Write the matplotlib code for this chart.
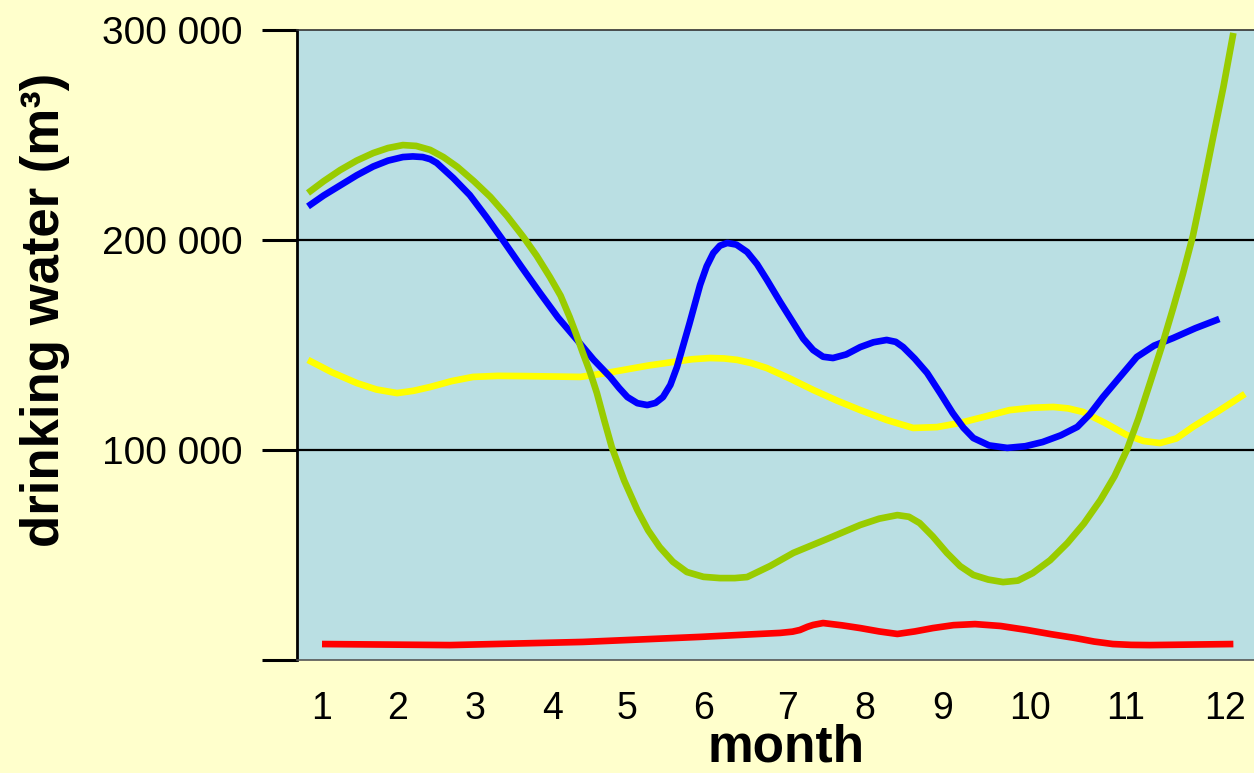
import matplotlib
matplotlib.use('Agg')
import matplotlib.pyplot as plt

plt.rcParams['font.family'] = ['Liberation Sans', 'DejaVu Sans']

# month tick positions (labels are not evenly spaced in the original)
months = ['1', '2', '3', '4', '5', '6', '7', '8', '9', '10', '11', '12']
month_pos = [1.00, 1.92, 2.85, 3.79, 4.69, 5.62, 6.64, 7.58, 8.52, 9.58, 10.73, 11.94]

# blue series
blue_x = [0.83, 1.02, 1.22, 1.42, 1.62, 1.80, 1.98, 2.10, 2.22, 2.31, 2.39, 2.59, 2.79,
          2.99, 3.19, 3.42, 3.64, 3.86, 4.09, 4.29, 4.49, 4.60, 4.70, 4.82, 4.94, 5.04,
          5.13, 5.22, 5.30, 5.45, 5.58, 5.66, 5.74, 5.82, 5.91, 6.02, 6.15, 6.27, 6.39,
          6.55, 6.71, 6.83, 6.95, 7.07, 7.19, 7.35, 7.52, 7.68, 7.84, 7.95, 8.04, 8.18,
          8.33, 8.49, 8.64, 8.77, 8.89, 9.08, 9.30, 9.52, 9.73, 9.95, 10.15, 10.30, 10.46,
          10.67, 10.87, 11.08, 11.31, 11.58, 11.87]
blue_y = [216000, 221200, 226000, 230800, 235000, 237800, 239500, 239800, 239500, 238500,
          236700, 229500, 221400, 211000, 200000, 187000, 174800, 163000, 152400, 143000,
          134800, 129500, 125200, 122300, 121400, 122400, 125200, 131000, 139500, 160000,
          178600, 187500, 193800, 197300, 198600, 197800, 194300, 188500, 181000, 170500,
          160500, 153000, 147600, 144400, 143800, 145500, 149000, 151300, 152400, 151500,
          149000, 143500, 136700, 127000, 117600, 110600, 105700, 102200, 101000, 101800,
          103800, 107000, 111000, 117000, 125200, 135000, 144300, 149700, 153300, 158000,
          162400]

# green series
green_x = [0.83, 1.02, 1.22, 1.42, 1.62, 1.80, 1.98, 2.14, 2.31, 2.47, 2.64, 2.84, 3.04,
           3.24, 3.44, 3.60, 3.76, 3.89, 4.00, 4.08, 4.16, 4.25, 4.33, 4.42, 4.51, 4.66,
           4.82, 4.95, 5.09, 5.25, 5.42, 5.62, 5.82, 6.00, 6.15, 6.43, 6.71, 7.11, 7.52,
           7.75, 7.97, 8.11, 8.24, 8.40, 8.57, 8.73, 8.89, 9.07, 9.25, 9.43, 9.61, 9.82,
           10.03, 10.23, 10.43, 10.60, 10.75, 10.89, 11.03, 11.17, 11.31, 11.43, 11.55,
           11.67, 11.79, 11.92, 12.04]
green_y = [222400, 228000, 233300, 237800, 241400, 243800, 245200, 244800, 242900, 239500,
           234800, 228000, 220500, 211500, 201400, 192500, 182400, 173500, 163300, 155000,
           146200, 136800, 127100, 114000, 101400, 85500, 71400, 61800, 53800, 46800, 41900,
           39600, 39000, 39000, 39500, 44800, 51000, 57500, 64300, 67300, 69000, 68200,
           65200, 58800, 51000, 44700, 40500, 38300, 37100, 37800, 41400, 47500, 55700,
           65000, 76200, 87500, 100000, 115000, 131900, 149000, 167500, 184000, 202000,
           224500, 248000, 273000, 298600]

# yellow series
yellow_x = [0.83, 1.12, 1.42, 1.66, 1.91, 2.11, 2.31, 2.57, 2.83, 3.13, 3.44, 3.79, 4.13,
            4.39, 4.65, 4.95, 5.25, 5.48, 5.70, 5.87, 6.03, 6.21, 6.39, 6.67, 6.95, 7.24,
            7.52, 7.84, 8.16, 8.45, 8.73, 9.03, 9.33, 9.60, 9.86, 10.04, 10.22, 10.48,
            10.75, 10.95, 11.15, 11.35, 11.55, 11.87, 12.18]
yellow_y = [142900, 137000, 131900, 128800, 127100, 128200, 130000, 132800, 134800, 135300,
            135200, 135000, 134800, 136300, 138100, 140200, 141900, 143200, 143800, 143600,
            142900, 141300, 139000, 134000, 128600, 123500, 119000, 114300, 110500, 110900,
            112900, 115900, 119000, 120100, 120500, 119800, 118100, 113000, 107100, 104300,
            103300, 105500, 111000, 118800, 126700]

# red series
red_x = [1.00, 2.55, 4.16, 5.58, 6.55, 6.70, 6.79, 6.88, 6.95, 7.07, 7.30, 7.52, 7.75,
         7.97, 8.18, 8.40, 8.65, 8.91, 9.22, 9.54, 9.83, 10.12, 10.35, 10.58, 10.80, 11.03,
         12.04]
red_y = [7600, 7100, 8600, 11000, 12900, 13500, 14300, 15800, 16700, 17600, 16500, 15200,
         13600, 12400, 13600, 15200, 16600, 17100, 16200, 14300, 12300, 10500, 8800, 7600,
         7200, 7100, 7600]

yticks = [0, 100000, 200000, 300000]
ytick_labels = ['', '100 000', '200 000', '300 000']

fig = plt.figure(figsize=(12.54, 7.73), dpi=100, facecolor='#FFFFCC')
ax = fig.add_axes([297/1254, 113/773, 957/1254, 630/773])
ax.set_facecolor('#BADFE3')

for y in [100000, 200000]:
    ax.axhline(y, color='black', lw=1.6, zorder=1)

lw = 4.8
ax.plot(red_x, red_y, color='#FF0000', lw=lw, solid_joinstyle='round', solid_capstyle='butt', zorder=3)
ax.plot(yellow_x, yellow_y, color='#FFFF00', lw=lw, solid_joinstyle='round', solid_capstyle='butt', zorder=3)
ax.plot(blue_x, blue_y, color='#0000FF', lw=lw, solid_joinstyle='round', solid_capstyle='butt', zorder=3)
ax.plot(green_x, green_y, color='#99CC00', lw=lw, solid_joinstyle='round', solid_capstyle='butt', zorder=3)

ax.set_xlim(0.697, 12.29)
ax.set_ylim(0, 300000)

ax.set_xticks(month_pos)
ax.set_xticklabels(months, fontsize=27)
ax.tick_params(axis='x', length=0, pad=22)
ax.set_yticks(yticks)
ax.set_yticklabels(ytick_labels, fontsize=28)
ax.tick_params(axis='y', length=25, width=2.2, pad=14, color='black')

ax.spines['right'].set_visible(False)
ax.spines['left'].set_color('black')
ax.spines['left'].set_linewidth(2)
ax.spines['top'].set_color('#333333')
ax.spines['top'].set_linewidth(1.2)
ax.spines['bottom'].set_color('#555555')
ax.spines['bottom'].set_linewidth(1.2)

fig.text(786/1254, 1 - 748/773, 'month', fontsize=37, fontweight='bold', ha='center', va='center')
fig.text(45/1254, 1 - 310/773, 'drinking water (m³)', fontsize=38, fontweight='bold',
         ha='center', va='center', rotation=90)

fig.savefig('out.png', dpi=100, facecolor=fig.get_facecolor())
